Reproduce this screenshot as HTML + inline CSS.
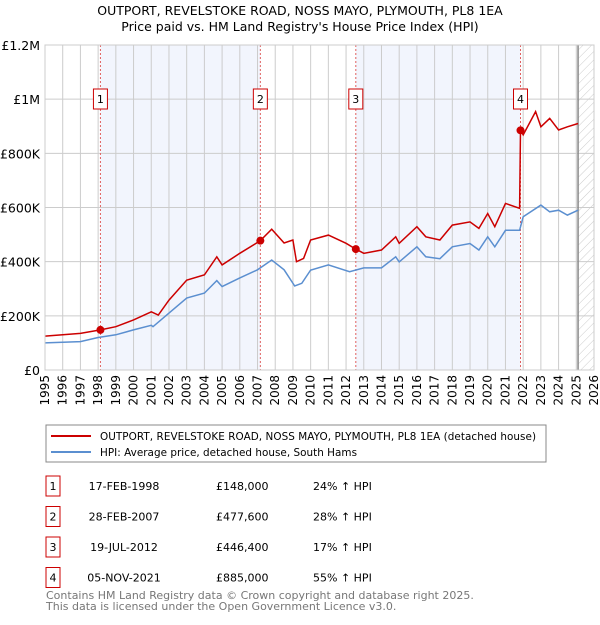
<!DOCTYPE html>
<html><head><meta charset="utf-8"><style>
body{margin:0;background:#fff;font-family:"Liberation Sans","DejaVu Sans",sans-serif;}
</style></head><body>
<svg width="600" height="620" xmlns="http://www.w3.org/2000/svg" font-family="'DejaVu Sans','Liberation Sans',sans-serif">
<defs><pattern id="hatch" width="6" height="6" patternUnits="userSpaceOnUse" patternTransform="rotate(45)"><line x1="0" y1="0" x2="0" y2="6" stroke="#ccc" stroke-width="1"/></pattern></defs>
<text x="300" y="15" text-anchor="middle" font-size="12.5">OUTPORT, REVELSTOKE ROAD, NOSS MAYO, PLYMOUTH, PL8 1EA</text>
<text x="300" y="31" text-anchor="middle" font-size="12.5">Price paid vs. HM Land Registry's House Price Index (HPI)</text>
<g id="plot"></g>
<g>
<rect x="46" y="425" width="500" height="37" fill="#fff" stroke="#888"/>
<line x1="51" y1="436" x2="91" y2="436" stroke="#cc0000" stroke-width="2"/>
<text x="100" y="440" font-size="10.4" textLength="436">OUTPORT, REVELSTOKE ROAD, NOSS MAYO, PLYMOUTH, PL8 1EA (detached house)</text>
<line x1="51" y1="452" x2="91" y2="452" stroke="#5b8fd0" stroke-width="2"/>
<text x="100" y="456" font-size="10.4" textLength="257">HPI: Average price, detached house, South Hams</text>
</g>
<g id="table" font-size="11"></g>
<text x="46" y="599" font-size="11" fill="#777">Contains HM Land Registry data © Crown copyright and database right 2025.</text>
<text x="46" y="610" font-size="11" fill="#777">This data is licensed under the Open Government Licence v3.0.</text>
</svg>
<script>
const yearTicks=[1995,1996,1997,1998,1999,2000,2001,2002,2003,2004,2005,2006,2007,2008,2009,2010,2011,2012,2013,2014,2015,2016,2017,2018,2019,2020,2021,2022,2023,2024,2025,2026];
const valueTicks=[0,200000,400000,600000,800000,1000000,1200000];
const valueTickLabels=["£0","£200K","£400K","£600K","£800K","£1M","£1.2M"];
const hpiYears=[1995,1997,1998,1999,2000,2001,2001.1,2002,2003,2004,2004.7,2005,2006,2007,2007.8,2008.5,2009.1,2009.5,2010,2011,2012.2,2013,2014,2014.8,2015,2016,2016.5,2017.3,2018,2019,2019.5,2020,2020.4,2021,2021.8,2022,2023,2023.5,2024,2024.5,2025.1];
const hpiValues=[100000,105000,120000,130000,148000,165000,160000,210000,266000,284000,330000,308000,340000,370000,406000,370000,310000,320000,369000,388000,363000,377000,377000,418000,399000,455000,418000,411000,455000,467000,443000,492000,455000,516000,516000,566000,609000,584000,590000,572000,590000];
const propYears=[1995,1997,1998.13,1999,2000,2001,2001.4,2002,2003,2004,2004.7,2005,2006,2007.16,2007.8,2008.5,2009,2009.2,2009.6,2010,2011,2012,2012.55,2013,2014,2014.8,2015,2016,2016.5,2017.3,2018,2019,2019.5,2020,2020.4,2021,2021.8,2021.85,2022,2022.7,2023,2023.5,2024,2024.5,2025.1];
const propValues=[125000,135000,148000,160000,185000,215000,203000,258000,332000,351000,418000,388000,431000,477600,520000,469000,480000,400000,412000,480000,498000,468000,446400,431000,443000,492000,468000,529000,492000,480000,535000,547000,523000,578000,529000,615000,597000,885000,868000,954000,898000,929000,886000,898000,910000];
const saleLabels=["1","2","3","4"];
const saleDates=[1998.13,2007.16,2012.55,2021.85];
const salePrices=[148000,477600,446400,885000];
const saleDateText=["17-FEB-1998","28-FEB-2007","19-JUL-2012","05-NOV-2021"];
const salePriceText=["£148,000","£477,600","£446,400","£885,000"];
const salePctText=["24% ↑ HPI","28% ↑ HPI","17% ↑ HPI","55% ↑ HPI"];

const NS="http://www.w3.org/2000/svg";
const X0=45,X1=594,Y0=370,Y1=45;
const xs=y=>X0+(y-1995)/(2026-1995)*(X1-X0);
const ys=v=>Y0-v/1200000*(Y0-Y1);
const plot=document.getElementById('plot');
function mk(t,a,p){const e=document.createElementNS(NS,t);for(const k in a)e.setAttribute(k,a[k]);(p||plot).appendChild(e);return e;}
for(let i=0;i<saleDates.length;i+=2){
 const r=mk('rect',{x:xs(saleDates[i]),y:Y1,width:xs(saleDates[i+1])-xs(saleDates[i]),height:Y0-Y1,fill:'#f2f5fd'});
 
 
}
const h=mk('rect',{x:xs(2025.1),y:Y1,width:X1-xs(2025.1),height:Y0-Y1,fill:'url(#hatch)'});


yearTicks.forEach(y=>{
 const l=mk('line',{x1:xs(y),x2:xs(y),y1:Y1,y2:Y0,stroke:'#ccc','stroke-width':1});
 
 
 const t=mk('text',{x:0,y:0,'font-size':12,'text-anchor':'end',transform:`translate(${xs(y)+4},${Y0+5}) rotate(-90)`});
 t.textContent=y;
 
 
});
valueTicks.forEach((v,i)=>{
 const l=mk('line',{x1:X0,x2:X1,y1:ys(v),y2:ys(v),stroke:'#ccc','stroke-width':1});
 
 
 const t=mk('text',{x:40,y:ys(v)+5,'font-size':12.5,'text-anchor':'end'});
 t.textContent=valueTickLabels[i];
 
 
});
const nl=mk('line',{x1:xs(2025.1),x2:xs(2025.1),y1:Y1,y2:Y0,stroke:'#888','stroke-width':1.5});


saleDates.forEach((d,i)=>{
 const l=mk('line',{x1:xs(d),x2:xs(d),y1:Y1,y2:Y0,stroke:'#e06060','stroke-width':1,'stroke-dasharray':'2,2'});
 
 
 const b=mk('rect',{x:xs(d)-7,y:89,width:14,height:20,fill:'#fff',stroke:'#cc0000'});
 
 
 const t=mk('text',{x:xs(d),y:103,'font-size':11,'text-anchor':'middle'});
 t.textContent=saleLabels[i];
 
 
});
function path(xa,va){return xa.map((x,i)=>(i?'L':'M')+xs(x).toFixed(1)+','+ys(va[i]).toFixed(1)).join('');}
const hp=mk('path',{d:path(hpiYears,hpiValues),fill:'none',stroke:'#5b8fd0','stroke-width':1.5});


const pp=mk('path',{d:path(propYears,propValues),fill:'none',stroke:'#cc0000','stroke-width':1.5});


saleDates.forEach((d,i)=>{
 const c=mk('circle',{cx:xs(d),cy:ys(salePrices[i]),r:4,fill:'#cc0000'});
 
 
});
const fr=mk('rect',{x:X0,y:Y1,width:X1-X0,height:Y0-Y1,fill:'none',stroke:'#ccc'});


const tb=document.getElementById('table');
saleLabels.forEach((s,i)=>{
 const y=476+i*30.5;
 const b=mk('rect',{x:46,y:y,width:14,height:20,fill:'#fff',stroke:'#cc0000'},tb);
 
 
 const cells=[[53,s,'middle'],[124,saleDateText[i],'middle'],[216,salePriceText[i],'start'],[313,salePctText[i],'start']];
 cells.forEach(c=>{
  const t=mk('text',{x:c[0],y:y+14,'text-anchor':c[2]},tb);
  t.textContent=c[1];
  
  
 });
});
</script>
</body></html>
